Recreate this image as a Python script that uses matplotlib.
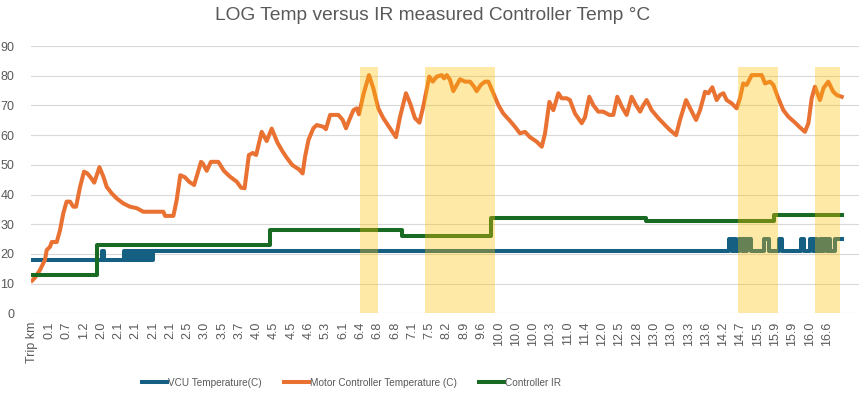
import matplotlib
matplotlib.use("Agg")
import matplotlib.pyplot as plt

# category labels on the x axis (every N-th sample of the log)
trip_labels = ["Trip km", "0.1", "0.7", "1.2", "2.0", "2.1", "2.1", "2.1", "2.1", "2.5",
               "3.0", "3.5", "3.7", "4.0", "4.5", "4.5", "4.6", "5.3", "6.1", "6.4",
               "6.8", "6.8", "7.1", "7.5", "8.2", "8.9", "9.6", "10.0", "10.0", "10.0",
               "10.3", "11.0", "11.4", "12.0", "12.5", "12.8", "13.0", "13.0", "13.3", "13.6",
               "14.2", "14.7", "15.5", "15.9", "15.9", "16.0", "16.6"]

# Motor controller temperature (sample position in label units, value)
motor_x = [0, 0.17, 0.46, 0.75, 0.85, 1.04, 1.14, 1.43, 1.62, 1.81, 2.0, 2.2, 2.39, 2.55,
           2.78, 3.01, 3.2, 3.36, 3.6, 3.9, 4.13, 4.32, 4.61, 4.9, 5.28, 5.67, 6.06, 6.44,
           7.6, 7.7, 8.18, 8.37, 8.58, 8.85, 9.09, 9.38, 9.78, 9.88, 10.11, 10.35, 10.78,
           11.1, 11.46, 11.85, 12.1, 12.3, 12.55, 12.78, 12.97, 13.29, 13.58, 13.87, 14.2,
           14.5, 14.74, 15.05, 15.3, 15.45, 15.66, 15.8, 16.0, 16.28, 16.48, 16.86, 17.01,
           17.25, 17.73, 17.98, 18.17, 18.36, 18.6, 18.79, 18.92, 19.17, 19.5, 19.75, 20.04,
           20.33, 20.72, 21.06, 21.3, 21.64, 21.88, 22.16, 22.42, 22.64, 22.99, 23.19, 23.42,
           23.71, 23.84, 24.0, 24.19, 24.38, 24.58, 24.77, 25.06, 25.35, 25.58, 25.73, 25.97,
           26.22, 26.41, 26.7, 26.99, 27.27, 27.66, 27.95, 28.24, 28.53, 28.82, 29.2, 29.5,
           29.69, 29.94, 30.17, 30.46, 30.65, 30.94, 31.13, 31.42, 31.81, 32.0, 32.25, 32.48,
           32.77, 33.06, 33.41, 33.64, 33.87, 34.13, 34.41, 34.7, 34.95, 35.19, 35.38, 35.57,
           35.86, 36.25, 36.63, 36.92, 37.27, 37.5, 37.85, 38.14, 38.43, 38.66, 38.95, 39.14,
           39.37, 39.62, 39.81, 40.01, 40.2, 40.49, 40.78, 40.97, 41.16, 41.36, 41.65, 42.23,
           42.42, 42.71, 42.9, 43.19, 43.48, 43.77, 44.16, 44.44, 44.73, 44.93, 45.12, 45.31,
           45.6, 45.8, 46.08, 46.37, 46.57, 46.86]
motor_temp = [11, 12, 14.6, 18, 21.3, 22.4, 24, 24, 28, 33.7, 37.6, 37.6, 35.9, 35.9,
              42.6, 47.7, 47.1, 46, 44, 49.2, 46, 42.6, 40.4, 38.7, 37, 35.9, 35.4, 34.2,
              34.2, 32.8, 32.8, 38.1, 46.5, 45.8, 44.3, 43.2, 51, 50.5, 48, 51, 51,
              48, 46, 44.3, 42.3, 42.1, 53.3, 54, 53.3, 61.1, 58, 62.2, 57.5,
              54.5, 52.4, 50, 49, 48.5, 47.1, 52.7, 58.4, 62.3, 63.4, 62.8, 62,
              66.8, 66.8, 65.1, 62.3, 65.1, 68.4, 69, 67, 73.5, 80.2, 75.8, 69,
              65.7, 62.3, 59.3, 66.2, 74.1, 70.7, 65.7, 64.2, 69.6, 79.7, 78, 79.7,
              80.2, 79.1, 80.2, 78.6, 74.8, 76.9, 78.8, 78, 78, 76.3, 74.8, 76.9,
              78, 78, 74.1, 70.1, 67.3, 64.8, 62.8, 60.6, 61.1, 59.3, 57.8, 56.1,
              60.6, 71.2, 68.4, 74.1, 72.4, 72.4, 71.8, 67.3, 64, 66, 72.9, 70.1,
              67.9, 67.9, 66.8, 66.8, 72.9, 69.6, 66.8, 72.9, 70.1, 67.9, 70.1, 71.8,
              68.4, 65.7, 63.4, 61.7, 60, 65.1, 71.8, 68.4, 65.1, 68.4, 74.6, 74.1,
              76.1, 71.8, 73.5, 74.1, 71.8, 70.7, 69, 72.4, 77.4, 76.9, 80.2, 80.2,
              77.4, 78, 76.9, 72.4, 68.4, 66.2, 64.2, 62.6, 61.1, 64, 72.4, 76.3,
              71.8, 75.8, 78, 74.6, 73.5, 72.9]

# VCU temperature, value changes (steps)
vcu_x = [0, 4.05, 4.18, 5.34, 5.40, 5.48, 5.55, 5.63, 5.70, 5.78, 5.86, 5.95, 6.03, 6.12,
         6.20, 6.30, 6.38, 6.47, 6.55, 6.65, 6.72, 6.82, 6.90, 7.02,
         40.35, 40.51, 40.63, 40.74, 40.93, 41.09, 41.16, 41.28, 41.36, 41.59, 42.36, 42.63,
         43.25, 43.40, 44.50, 44.68, 45.02, 45.21, 45.33, 45.45, 45.60, 45.72, 45.83, 45.99,
         46.10, 46.18, 46.47, 46.86]
vcu_temp = [18, 21, 18, 21, 18, 21, 18, 21, 18, 21, 18, 21, 18, 21,
            18, 21, 18, 21, 18, 21, 18, 21, 18, 21,
            25, 21, 25, 21, 25, 21, 25, 21, 25, 21, 25, 21,
            25, 21, 25, 21, 25, 21, 25, 21, 25, 21, 25, 21,
            25, 21, 25, 25]

# Controller IR readings (steps)
ir_x = [0, 3.78, 13.77, 21.4, 26.56, 35.53, 42.94, 46.86]
ir_temp = [13, 23, 28, 26, 32, 31, 33, 33]

# highlighted stretches
hl_start = [18.98, 22.74, 40.86, 45.33]
hl_end = [20.0, 26.78, 43.15, 46.74]
hl_height = 83

grey = "#595959"
fig = plt.figure(figsize=(8.61, 3.96), dpi=100)
ax = fig.add_axes([0.036, 0.2088, 0.9617, 0.675])

ax.plot(vcu_x, vcu_temp, drawstyle="steps-post", color="#156082", lw=2.9,
        label="VCU Temperature(C)", zorder=2)
ax.plot(motor_x, motor_temp, color="#E97132", lw=2.9, solid_joinstyle="round",
        label="Motor Controller Temperature (C)", zorder=2)
ax.plot(ir_x, ir_temp, drawstyle="steps-post", color="#196B24", lw=2.9,
        label="Controller IR", zorder=2)

widths = [e - s for s, e in zip(hl_start, hl_end)]
ax.bar(hl_start, [hl_height] * len(hl_start), width=widths, align="edge",
       color="#FFC000", alpha=0.35, lw=0, zorder=3)

ax.set_ylim(0, 90)
ax.set_yticks(range(0, 91, 10))
ax.set_xlim(-0.06, 47.86)
ax.set_xticks(range(len(trip_labels)))
ax.set_xticklabels(trip_labels, rotation=90, va="top", ha="center")
ax.grid(axis="y", color="#D9D9D9", lw=0.8, zorder=0)
ax.set_axisbelow(True)
for s in ax.spines.values():
    s.set_visible(False)
ax.tick_params(axis="both", length=0, colors=grey, labelsize=9)
ax.tick_params(axis="y", pad=12)
ax.tick_params(axis="x", pad=6)
for t in ax.get_xticklabels() + ax.get_yticklabels():
    t.set_family("Liberation Sans")

fig.text(0.502, 0.96, "LOG Temp versus IR measured Controller Temp °C", ha="center",
         va="center", fontsize=13.8, color=grey, family="Liberation Sans")

leg = fig.legend(loc="center", bbox_to_anchor=(0.408, 0.033), ncol=3, frameon=False,
                 handlelength=2.5, handletextpad=0.1, columnspacing=2.2,
                 prop={"family": "Liberation Sans", "size": 7.2})
for t in leg.get_texts():
    t.set_color(grey)

fig.savefig("out.png", dpi=100)
